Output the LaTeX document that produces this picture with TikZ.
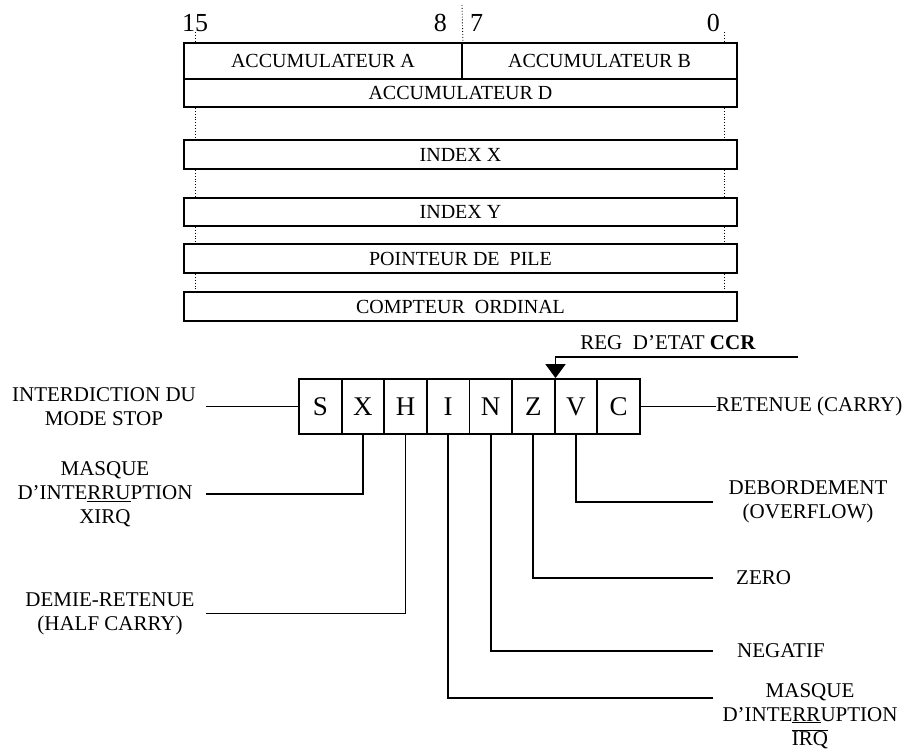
\documentclass[tikz,border=0pt]{standalone}
\usepackage{fontspec}
\setmainfont{Liberation Serif}
\usetikzlibrary{arrows.meta}

\begin{document}
\begin{tikzpicture}[x=1pt,y=-1pt,
  reg/.style={draw,line width=1.8pt,minimum height=29pt,inner sep=0pt,font=\fontsize{20}{24}\selectfont},
  cell/.style={draw,line width=1.8pt,minimum width=42.6pt,minimum height=55pt,inner sep=0pt,font=\fontsize{27}{30}\selectfont},
  lbl/.style={align=center,inner sep=0pt,font=\fontsize{21}{24}\selectfont},
  wire/.style={line width=1.8pt},
  guide/.style={dotted,line width=0.9pt},
  bit/.style={inner sep=0pt,font=\fontsize{26}{30}\selectfont}]
\useasboundingbox (0,0) rectangle (904,751);

\node[bit,anchor=base west] (b15) at (182,32) {15};
\node[bit,anchor=base east] (b8) at (447,32) {8};
\node[bit,anchor=base west] (b7) at (470,32) {7};
\node[bit,anchor=base east] (b0) at (720,32) {0};

\node[reg,minimum width=278pt,minimum height=36pt] (accA) at (323,61) {ACCUMULATEUR A};
\node[reg,minimum width=275pt,minimum height=36pt] (accB) at (599.5,61) {ACCUMULATEUR B};
\node[reg,minimum width=553pt,minimum height=28pt] (accD) at (460.5,93) {ACCUMULATEUR D};
\node[reg,minimum width=553pt] (idxX) at (460.5,154.5) {INDEX X};
\node[reg,minimum width=553pt,minimum height=28pt] (idxY) at (460.5,212) {INDEX Y};
\node[reg,minimum width=553pt] (sp) at (460.5,258.5) {POINTEUR DE\ \ PILE};
\node[reg,minimum width=553pt] (pc) at (460.5,306.5) {COMPTEUR\ \ ORDINAL};

\coordinate (lguide) at (195,0);
\coordinate (rguide) at (724,0);
\coordinate (ltop) at (195,32);
\coordinate (rtop) at (724,32);
\coordinate (midtop) at (462,5);
\draw[guide] (midtop) -- (accA.north east);
\draw[guide] (ltop) -- (accA.north -| ltop);
\draw[guide] (rtop) -- (accB.north -| rtop);
\foreach \a/\b in {accD/idxX,idxX/idxY,idxY/sp,sp/pc} {
  \draw[guide] (\a.south -| lguide) -- (\b.north -| lguide);
  \draw[guide] (\a.south -| rguide) -- (\b.north -| rguide);
}

\foreach \f [count=\i] in {S,X,H,I,N,Z,V,C}
  \node[cell] (c\f) at ({299+42.6*(\i-0.5)},406.5) {\f};

\node[lbl] (ccr) at (668,343) {REG\ \ D’ETAT \textbf{CCR}};
\coordinate (ccrend) at (798,357);
\draw[wire,-{Triangle[width=20pt,length=14pt]}] (ccrend) -| (cZ.north east);

\coordinate (lend) at (206,0);
\coordinate (rend) at (713,0);

\node[lbl] (stop) at (104,406.5) {INTERDICTION DU\\MODE STOP};
\node[lbl] (xirq) at (105,494) {MASQUE\\D’INTE\underline{RRU}PTION\\XIRQ};
\node[lbl] (half) at (110,613.5) {DEMIE-RETENUE\\(HALF CARRY)};
\draw[wire] (cS.west) -- (cS.west -| lend);
\draw[wire] (cX.south) |- (xirq.east -| lend);
\draw[wire] (cH.south) |- (half.east -| lend);

\node[lbl,anchor=west] (carry) at (716,406.5) {RETENUE (CARRY)};
\node[lbl] (ovf) at (808,502) {DEBORDEMENT\\(OVERFLOW)};
\node[lbl,anchor=west] (zero) at (736,578) {ZERO};
\node[lbl,anchor=west] (neg) at (737,651) {NEGATIF};
\node[lbl] (irq) at (810,716) {MASQUE\\D’INTE\underline{RR}UPTION\\$\overline{\mbox{IRQ}}$};
\coordinate (irqend) at (713,698);
\draw[wire] (cC.east) -- (carry.west);
\draw[wire] (cV.south) |- (ovf.west -| rend);
\draw[wire] (cZ.south) |- (zero.west -| rend);
\draw[wire] (cN.south) |- (neg.west -| rend);
\draw[wire] (cI.south) |- (irqend);
\end{tikzpicture}
\end{document}
